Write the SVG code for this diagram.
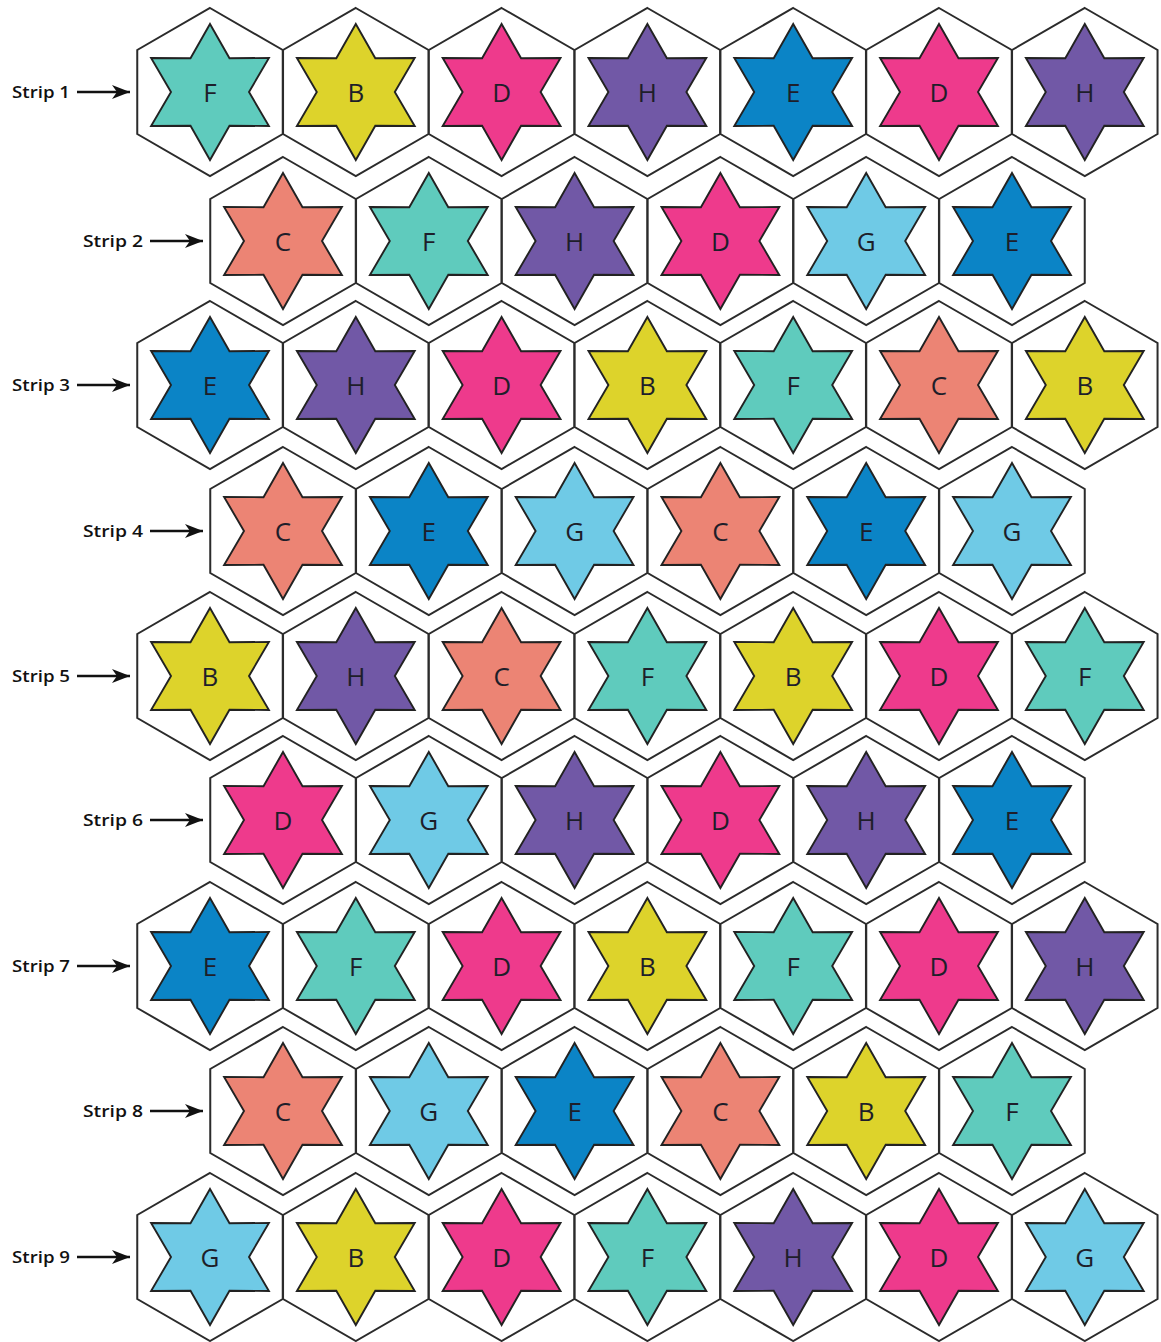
<svg xmlns="http://www.w3.org/2000/svg" xmlns:xlink="http://www.w3.org/1999/xlink" width="1161" height="1342" viewBox="0 0 1161 1342">
<style>
.hex{fill:#ffffff;stroke:#2b2b2b;stroke-width:2;stroke-linejoin:miter}
.star{stroke:#222;stroke-width:1.9;stroke-linejoin:miter}
.F{fill:#5fcbbd}.B{fill:#ddd32b}.D{fill:#ee3a8c}.H{fill:#7158a6}.E{fill:#0b84c6}.C{fill:#ec8474}.G{fill:#6fcae6}
.lt{font-family:"Open Sans","Liberation Sans",sans-serif;font-size:26px;font-weight:500;fill:#1e1e2a;text-anchor:middle}
.lbl{font-family:"Open Sans","Liberation Sans",sans-serif;font-size:16px;font-weight:600;fill:#111}
.arr{stroke:#111;stroke-width:2.4;fill:none;marker-end:url(#ah)}
</style>
<defs>
<polygon id="hexshape" class="hex" points="0,-84 72.75,-42 72.75,42 0,84 -72.75,42 -72.75,-42"/>
<polygon id="starshape" points="0,-68 19.5,-33.8 58.9,-34 39,0 58.9,34 19.5,33.8 0,68 -19.5,33.8 -58.9,34 -39,0 -58.9,-34 -19.5,-33.8"/>
<marker id="ah" markerWidth="20" markerHeight="16" refX="18" refY="8" orient="auto" markerUnits="userSpaceOnUse">
<path d="M0,1 L18,8 L0,15 L5,8 Z" fill="#111"/>
</marker>
</defs>
<rect width="1161" height="1342" fill="#ffffff"/>
<g id="connectors">
<line class="arr" x1="77" y1="92" x2="130" y2="92"/>
<line class="arr" x1="150" y1="241" x2="203" y2="241"/>
<line class="arr" x1="77" y1="385" x2="130" y2="385"/>
<line class="arr" x1="150" y1="531" x2="203" y2="531"/>
<line class="arr" x1="77" y1="676" x2="130" y2="676"/>
<line class="arr" x1="150" y1="820" x2="203" y2="820"/>
<line class="arr" x1="77" y1="966" x2="130" y2="966"/>
<line class="arr" x1="150" y1="1111" x2="203" y2="1111"/>
<line class="arr" x1="77" y1="1257" x2="130" y2="1257"/>
</g>
<g id="labels">
<text class="lbl" x="12" y="98" textLength="58" lengthAdjust="spacingAndGlyphs">Strip 1</text>
<text class="lbl" x="83" y="247" textLength="60" lengthAdjust="spacingAndGlyphs">Strip 2</text>
<text class="lbl" x="12" y="391" textLength="58" lengthAdjust="spacingAndGlyphs">Strip 3</text>
<text class="lbl" x="83" y="537" textLength="60" lengthAdjust="spacingAndGlyphs">Strip 4</text>
<text class="lbl" x="12" y="682" textLength="58" lengthAdjust="spacingAndGlyphs">Strip 5</text>
<text class="lbl" x="83" y="826" textLength="60" lengthAdjust="spacingAndGlyphs">Strip 6</text>
<text class="lbl" x="12" y="972" textLength="58" lengthAdjust="spacingAndGlyphs">Strip 7</text>
<text class="lbl" x="83" y="1117" textLength="60" lengthAdjust="spacingAndGlyphs">Strip 8</text>
<text class="lbl" x="12" y="1263" textLength="58" lengthAdjust="spacingAndGlyphs">Strip 9</text>
</g>
<g id="r1c1" transform="translate(210,92)"><use href="#hexshape"/><use href="#starshape" class="star F"/><text class="lt" y="9.5">F</text></g>
<g id="r1c2" transform="translate(355.8,92)"><use href="#hexshape"/><use href="#starshape" class="star B"/><text class="lt" y="9.5">B</text></g>
<g id="r1c3" transform="translate(501.6,92)"><use href="#hexshape"/><use href="#starshape" class="star D"/><text class="lt" y="9.5">D</text></g>
<g id="r1c4" transform="translate(647.4,92)"><use href="#hexshape"/><use href="#starshape" class="star H"/><text class="lt" y="9.5">H</text></g>
<g id="r1c5" transform="translate(793.2,92)"><use href="#hexshape"/><use href="#starshape" class="star E"/><text class="lt" y="9.5">E</text></g>
<g id="r1c6" transform="translate(939,92)"><use href="#hexshape"/><use href="#starshape" class="star D"/><text class="lt" y="9.5">D</text></g>
<g id="r1c7" transform="translate(1084.8,92)"><use href="#hexshape"/><use href="#starshape" class="star H"/><text class="lt" y="9.5">H</text></g>
<g id="r2c1" transform="translate(283,241)"><use href="#hexshape"/><use href="#starshape" class="star C"/><text class="lt" y="9.5">C</text></g>
<g id="r2c2" transform="translate(428.8,241)"><use href="#hexshape"/><use href="#starshape" class="star F"/><text class="lt" y="9.5">F</text></g>
<g id="r2c3" transform="translate(574.6,241)"><use href="#hexshape"/><use href="#starshape" class="star H"/><text class="lt" y="9.5">H</text></g>
<g id="r2c4" transform="translate(720.4,241)"><use href="#hexshape"/><use href="#starshape" class="star D"/><text class="lt" y="9.5">D</text></g>
<g id="r2c5" transform="translate(866.2,241)"><use href="#hexshape"/><use href="#starshape" class="star G"/><text class="lt" y="9.5">G</text></g>
<g id="r2c6" transform="translate(1012,241)"><use href="#hexshape"/><use href="#starshape" class="star E"/><text class="lt" y="9.5">E</text></g>
<g id="r3c1" transform="translate(210,385)"><use href="#hexshape"/><use href="#starshape" class="star E"/><text class="lt" y="9.5">E</text></g>
<g id="r3c2" transform="translate(355.8,385)"><use href="#hexshape"/><use href="#starshape" class="star H"/><text class="lt" y="9.5">H</text></g>
<g id="r3c3" transform="translate(501.6,385)"><use href="#hexshape"/><use href="#starshape" class="star D"/><text class="lt" y="9.5">D</text></g>
<g id="r3c4" transform="translate(647.4,385)"><use href="#hexshape"/><use href="#starshape" class="star B"/><text class="lt" y="9.5">B</text></g>
<g id="r3c5" transform="translate(793.2,385)"><use href="#hexshape"/><use href="#starshape" class="star F"/><text class="lt" y="9.5">F</text></g>
<g id="r3c6" transform="translate(939,385)"><use href="#hexshape"/><use href="#starshape" class="star C"/><text class="lt" y="9.5">C</text></g>
<g id="r3c7" transform="translate(1084.8,385)"><use href="#hexshape"/><use href="#starshape" class="star B"/><text class="lt" y="9.5">B</text></g>
<g id="r4c1" transform="translate(283,531)"><use href="#hexshape"/><use href="#starshape" class="star C"/><text class="lt" y="9.5">C</text></g>
<g id="r4c2" transform="translate(428.8,531)"><use href="#hexshape"/><use href="#starshape" class="star E"/><text class="lt" y="9.5">E</text></g>
<g id="r4c3" transform="translate(574.6,531)"><use href="#hexshape"/><use href="#starshape" class="star G"/><text class="lt" y="9.5">G</text></g>
<g id="r4c4" transform="translate(720.4,531)"><use href="#hexshape"/><use href="#starshape" class="star C"/><text class="lt" y="9.5">C</text></g>
<g id="r4c5" transform="translate(866.2,531)"><use href="#hexshape"/><use href="#starshape" class="star E"/><text class="lt" y="9.5">E</text></g>
<g id="r4c6" transform="translate(1012,531)"><use href="#hexshape"/><use href="#starshape" class="star G"/><text class="lt" y="9.5">G</text></g>
<g id="r5c1" transform="translate(210,676)"><use href="#hexshape"/><use href="#starshape" class="star B"/><text class="lt" y="9.5">B</text></g>
<g id="r5c2" transform="translate(355.8,676)"><use href="#hexshape"/><use href="#starshape" class="star H"/><text class="lt" y="9.5">H</text></g>
<g id="r5c3" transform="translate(501.6,676)"><use href="#hexshape"/><use href="#starshape" class="star C"/><text class="lt" y="9.5">C</text></g>
<g id="r5c4" transform="translate(647.4,676)"><use href="#hexshape"/><use href="#starshape" class="star F"/><text class="lt" y="9.5">F</text></g>
<g id="r5c5" transform="translate(793.2,676)"><use href="#hexshape"/><use href="#starshape" class="star B"/><text class="lt" y="9.5">B</text></g>
<g id="r5c6" transform="translate(939,676)"><use href="#hexshape"/><use href="#starshape" class="star D"/><text class="lt" y="9.5">D</text></g>
<g id="r5c7" transform="translate(1084.8,676)"><use href="#hexshape"/><use href="#starshape" class="star F"/><text class="lt" y="9.5">F</text></g>
<g id="r6c1" transform="translate(283,820)"><use href="#hexshape"/><use href="#starshape" class="star D"/><text class="lt" y="9.5">D</text></g>
<g id="r6c2" transform="translate(428.8,820)"><use href="#hexshape"/><use href="#starshape" class="star G"/><text class="lt" y="9.5">G</text></g>
<g id="r6c3" transform="translate(574.6,820)"><use href="#hexshape"/><use href="#starshape" class="star H"/><text class="lt" y="9.5">H</text></g>
<g id="r6c4" transform="translate(720.4,820)"><use href="#hexshape"/><use href="#starshape" class="star D"/><text class="lt" y="9.5">D</text></g>
<g id="r6c5" transform="translate(866.2,820)"><use href="#hexshape"/><use href="#starshape" class="star H"/><text class="lt" y="9.5">H</text></g>
<g id="r6c6" transform="translate(1012,820)"><use href="#hexshape"/><use href="#starshape" class="star E"/><text class="lt" y="9.5">E</text></g>
<g id="r7c1" transform="translate(210,966)"><use href="#hexshape"/><use href="#starshape" class="star E"/><text class="lt" y="9.5">E</text></g>
<g id="r7c2" transform="translate(355.8,966)"><use href="#hexshape"/><use href="#starshape" class="star F"/><text class="lt" y="9.5">F</text></g>
<g id="r7c3" transform="translate(501.6,966)"><use href="#hexshape"/><use href="#starshape" class="star D"/><text class="lt" y="9.5">D</text></g>
<g id="r7c4" transform="translate(647.4,966)"><use href="#hexshape"/><use href="#starshape" class="star B"/><text class="lt" y="9.5">B</text></g>
<g id="r7c5" transform="translate(793.2,966)"><use href="#hexshape"/><use href="#starshape" class="star F"/><text class="lt" y="9.5">F</text></g>
<g id="r7c6" transform="translate(939,966)"><use href="#hexshape"/><use href="#starshape" class="star D"/><text class="lt" y="9.5">D</text></g>
<g id="r7c7" transform="translate(1084.8,966)"><use href="#hexshape"/><use href="#starshape" class="star H"/><text class="lt" y="9.5">H</text></g>
<g id="r8c1" transform="translate(283,1111)"><use href="#hexshape"/><use href="#starshape" class="star C"/><text class="lt" y="9.5">C</text></g>
<g id="r8c2" transform="translate(428.8,1111)"><use href="#hexshape"/><use href="#starshape" class="star G"/><text class="lt" y="9.5">G</text></g>
<g id="r8c3" transform="translate(574.6,1111)"><use href="#hexshape"/><use href="#starshape" class="star E"/><text class="lt" y="9.5">E</text></g>
<g id="r8c4" transform="translate(720.4,1111)"><use href="#hexshape"/><use href="#starshape" class="star C"/><text class="lt" y="9.5">C</text></g>
<g id="r8c5" transform="translate(866.2,1111)"><use href="#hexshape"/><use href="#starshape" class="star B"/><text class="lt" y="9.5">B</text></g>
<g id="r8c6" transform="translate(1012,1111)"><use href="#hexshape"/><use href="#starshape" class="star F"/><text class="lt" y="9.5">F</text></g>
<g id="r9c1" transform="translate(210,1257)"><use href="#hexshape"/><use href="#starshape" class="star G"/><text class="lt" y="9.5">G</text></g>
<g id="r9c2" transform="translate(355.8,1257)"><use href="#hexshape"/><use href="#starshape" class="star B"/><text class="lt" y="9.5">B</text></g>
<g id="r9c3" transform="translate(501.6,1257)"><use href="#hexshape"/><use href="#starshape" class="star D"/><text class="lt" y="9.5">D</text></g>
<g id="r9c4" transform="translate(647.4,1257)"><use href="#hexshape"/><use href="#starshape" class="star F"/><text class="lt" y="9.5">F</text></g>
<g id="r9c5" transform="translate(793.2,1257)"><use href="#hexshape"/><use href="#starshape" class="star H"/><text class="lt" y="9.5">H</text></g>
<g id="r9c6" transform="translate(939,1257)"><use href="#hexshape"/><use href="#starshape" class="star D"/><text class="lt" y="9.5">D</text></g>
<g id="r9c7" transform="translate(1084.8,1257)"><use href="#hexshape"/><use href="#starshape" class="star G"/><text class="lt" y="9.5">G</text></g>
</svg>
